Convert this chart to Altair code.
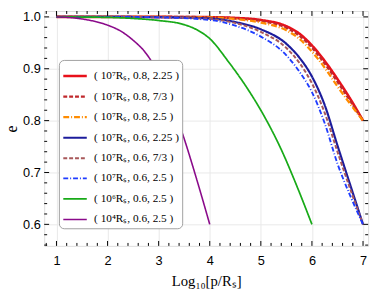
import altair as alt
import pandas as pd
import numpy as np

# ---- data ----
series_names = [
    "( 10⁷Rₛ, 0.8, 2.25 )",
    "( 10⁷Rₛ, 0.8, 7/3 )",
    "( 10⁷Rₛ, 0.8, 2.5 )",
    "( 10⁷Rₛ, 0.6, 2.25 )",
    "( 10⁷Rₛ, 0.6, 7/3 )",
    "( 10⁷Rₛ, 0.6, 2.5 )",
    "( 10⁶Rₛ, 0.6, 2.5 )",
    "( 10⁴Rₛ, 0.6, 2.5 )",
]
colors = ["#e8101a", "#c0282c", "#ff8c00", "#1c1c9c", "#a8585a", "#1f3cff", "#18aa18", "#8a0a8a"]
dashes = [[1, 0], [4, 2], [6, 2, 1, 2], [1, 0], [4, 2], [5, 2, 1, 2], [1, 0], [1, 0]]
widths = [2.6, 1.6, 1.5, 1.2, 2.0, 2.0, 1.2, 1.2]

x_7 = [1, 2, 3, 4, 4.5, 5, 5.5, 5.75, 6, 6.25, 6.5, 6.75, 7]
e_a = [1, 1, 1, 0.9995, 0.998, 0.994, 0.982, 0.968, 0.945, 0.915, 0.88, 0.842, 0.8]
e_b = [1, 1, 1, 0.9993, 0.997, 0.992, 0.979, 0.964, 0.941, 0.91, 0.875, 0.838, 0.8]
e_c = [1, 1, 0.9998, 0.999, 0.996, 0.989, 0.974, 0.958, 0.933, 0.902, 0.866, 0.832, 0.8]
e_d = [1, 1, 0.9995, 0.997, 0.99, 0.976, 0.948, 0.922, 0.885, 0.83, 0.752, 0.676, 0.6]
e_e = [1, 1, 0.9993, 0.996, 0.988, 0.971, 0.94, 0.912, 0.872, 0.815, 0.74, 0.668, 0.6]
e_f = [1, 1, 0.999, 0.994, 0.983, 0.962, 0.926, 0.895, 0.855, 0.795, 0.717, 0.655, 0.6]
x_g = [1, 2, 2.5, 3, 3.5, 3.75, 4, 4.37, 4.75, 5, 5.41, 5.7, 6]
e_g = [1, 0.999, 0.997, 0.993, 0.985, 0.975, 0.958, 0.913, 0.86, 0.82, 0.742, 0.675, 0.6]
x_h = [1, 1.5, 2, 2.25, 2.5, 2.75, 3, 3.25, 3.5, 3.75, 4]
e_h = [1, 0.996, 0.984, 0.973, 0.955, 0.93, 0.89, 0.835, 0.765, 0.685, 0.6]

xs = [x_7, x_7, x_7, x_7, x_7, x_7, x_g, x_h]
es = [e_a, e_b, e_c, e_d, e_e, e_f, e_g, e_h]

rows = []
for i, (name, xx, ee) in enumerate(zip(series_names, xs, es)):
    for k, (a, b) in enumerate(zip(xx, ee)):
        rows.append({"series": name, "x": a, "e": b, "ord": k})
df = pd.DataFrame(rows)

x_major = [1, 2, 3, 4, 5, 6, 7]
y_major = [0.6, 0.7, 0.8, 0.9, 1.0]
x_minor = [round(v, 2) for v in np.arange(0.8, 7.01, 0.2) if round(v, 2) not in x_major]
y_minor = [round(v, 2) for v in np.arange(0.56, 1.011, 0.02) if round(v, 2) not in y_major]

W, H = 331, 240
XD = [0.76, 7.1]
YD = [0.5585, 1.0113]

xs_scale = alt.Scale(domain=XD, nice=False, zero=False)
ys_scale = alt.Scale(domain=YD, nice=False, zero=False)

leg = alt.Legend(
    orient="none", legendX=15, legendY=50, title=None,
    fillColor="white", strokeColor="#a0a0a0", cornerRadius=5, padding=3,
    symbolType="stroke", symbolSize=576, symbolStrokeWidth=1.3,
    labelFont="Liberation Serif", labelFontSize=11.5, labelColor="black",
    labelOffset=6, rowPadding=2, labelLimit=200,
)

lines = alt.Chart(df).mark_line(interpolate="monotone").encode(
    x=alt.X("x:Q", scale=xs_scale,
            axis=alt.Axis(values=x_major, format="d", grid=True, gridColor="#e8e8e8",
                          ticks=False, domain=False, labelFont="Liberation Sans",
                          labelFontSize=13, labelColor="black", labelPadding=9,
                          title="Log₁₀[p/Rₛ]", titleFont="Liberation Serif",
                          titleFontSize=15, titleFontWeight="normal", titleColor="black",
                          titlePadding=6)),
    y=alt.Y("e:Q", scale=ys_scale,
            axis=alt.Axis(values=y_major, format=".1f", grid=True, gridColor="#e8e8e8",
                          ticks=False, domain=False, labelFont="Liberation Sans",
                          labelFontSize=13, labelColor="black", labelPadding=4,
                          title="e", titleFont="Liberation Serif", titleFontSize=16,
                          titleFontWeight="normal", titleColor="black",
                          titlePadding=3)),
    color=alt.Color("series:N", scale=alt.Scale(domain=series_names, range=colors), legend=leg),
    strokeDash=alt.StrokeDash("series:N", scale=alt.Scale(domain=series_names, range=dashes), legend=leg),
    strokeWidth=alt.StrokeWidth("series:N", scale=alt.Scale(domain=series_names, range=widths), legend=None),
    order="ord:Q",
    detail="series:N",
)


def xticks(vals, length):
    d = pd.DataFrame({"x": vals})
    b = alt.Chart(d).mark_rule(color="black", strokeWidth=1).encode(
        x=alt.X("x:Q", scale=xs_scale), y=alt.value(H), y2=alt.value(H - length))
    t = alt.Chart(d).mark_rule(color="black", strokeWidth=1).encode(
        x=alt.X("x:Q", scale=xs_scale), y=alt.value(0), y2=alt.value(length))
    return [b, t]


def yticks(vals, length):
    d = pd.DataFrame({"e": vals})
    l = alt.Chart(d).mark_rule(color="black", strokeWidth=1).encode(
        y=alt.Y("e:Q", scale=ys_scale), x=alt.value(0), x2=alt.value(length))
    r = alt.Chart(d).mark_rule(color="black", strokeWidth=1).encode(
        y=alt.Y("e:Q", scale=ys_scale), x=alt.value(W), x2=alt.value(W - length))
    return [l, r]


layers = [lines] + xticks(x_major, 5) + xticks(x_minor, 3) + yticks(y_major, 5) + yticks(y_minor, 3)

chart = alt.layer(*layers).properties(
    width=W, height=H,
    autosize=alt.AutoSizeParams(type="none"),
    padding={"left": 37, "top": 0, "right": 6, "bottom": 42},
).configure_view(stroke="black", strokeWidth=1.4).configure(background="white")

chart.save("out.html", embed_options={"renderer": "svg", "actions": False})
